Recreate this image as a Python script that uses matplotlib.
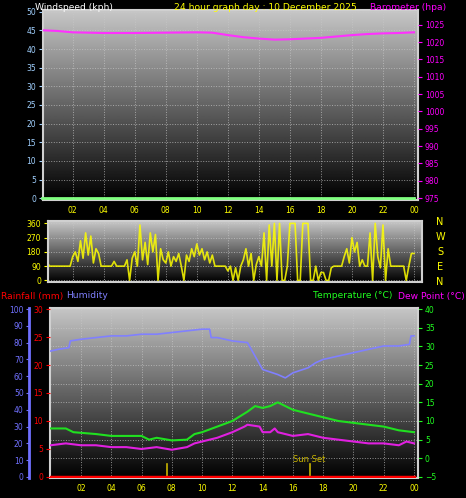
import numpy as np
import matplotlib.pyplot as plt

W, H = 466, 498

# ---- data ----
baro_hours = [0, 1, 2, 4, 6, 8, 10, 11, 12, 13, 14, 15, 16, 17, 18, 19, 20, 21, 22, 23, 24]
baro = [1023.4, 1023.2, 1022.8, 1022.6, 1022.6, 1022.7, 1022.8, 1022.7, 1022.0, 1021.4, 1021.0, 1020.7,
        1020.8, 1021.0, 1021.2, 1021.6, 1022.0, 1022.3, 1022.5, 1022.6, 1022.8]
wind_hours = [0, 24]
wind = [0, 0]

wdir = [200, 90, 120, 90, 90, 90,
        90, 90, 90, 90, 90, 90,
        150, 180, 120, 250, 140, 300,
        160, 280, 110, 200, 170, 90,
        90, 90, 90, 90, 120, 90,
        90, 90, 90, 130, 0, 140,
        180, 90, 350, 130, 240, 100,
        300, 180, 290, 0, 200, 130,
        110, 180, 90, 150, 120, 170,
        90, 0, 160, 120, 200, 150,
        230, 160, 200, 130, 180, 110,
        160, 90, 90, 90, 90, 90,
        60, 90, 0, 80, 0, 90,
        130, 200, 90, 170, 0, 100,
        150, 90, 300, 0, 350, 90,
        360, 0, 360, 0, 0, 90,
        360, 360, 360, 0, 0, 360,
        360, 360, 0, 0, 90, 0,
        50, 50, 0, 0, 80, 90,
        90, 90, 90, 150, 200, 110,
        270, 180, 240, 90, 130, 90,
        90, 300, 0, 360, 150, 80,
        350, 0, 200, 90, 90, 90,
        90, 90, 90, 0, 90, 170, 170]
wdir_hours = [i / 6 for i in range(len(wdir))]

hum_hours = [0, 0.5, 1.2, 1.3, 2, 3, 4, 5, 6, 7, 8, 9, 10, 10.5, 10.6, 11, 12, 13, 13.5, 14, 15, 15.5,
             16, 17, 17.5, 18, 19, 20, 21, 22, 23, 23.7, 23.8, 24]
hum = [75, 76, 77, 81, 82, 83, 84, 84, 85, 85, 86, 87, 88, 88, 83, 83, 81, 80, 72, 64, 61, 59,
       62, 65, 68, 70, 72, 74, 76, 78, 78, 79, 84, 84]

temp_hours = [0, 1, 1.5, 3, 4, 6, 6.5, 7, 8, 9, 9.5, 10, 11, 12, 13, 13.5, 14, 14.5, 15, 16, 17, 18,
              19, 20, 21, 22, 23, 24]
temp = [8, 8, 7, 6.5, 6, 6, 5, 5.5, 4.8, 5, 6.5, 7, 8.5, 10, 12.5, 14, 13.5, 14, 15, 13, 12, 11,
        10, 9.5, 9, 8.5, 7.5, 7]

dew_hours = [0, 1, 2, 3, 4, 5, 6, 7, 8, 9, 9.5, 10, 11, 12, 12.8, 13, 13.8, 14, 14.5, 14.8, 15, 16,
             17, 18, 19, 20, 21, 22, 23, 23.5, 24]
dew = [3.5, 4, 3.5, 3.5, 3, 3, 2.5, 3, 2.3, 3, 4, 4.5, 5.5, 7, 8.5, 9, 8.5, 7, 7, 8, 7, 6,
       6.5, 5.5, 5, 4.5, 4, 4, 3.5, 4.5, 4]

rain_hours = [0, 24]
rain = [0, 0]

hour_ticks = [2, 4, 6, 8, 10, 12, 14, 16, 18, 20, 22, 24]
hour_labels = ['02', '04', '06', '08', '10', '12', '14', '16', '18', '20', '22', '00']
sun_events = [7.7, 17.1]

# ---- figure ----
fig = plt.figure(figsize=(W / 100, H / 100), dpi=100, facecolor='black')


def px_axes(x0, y0, x1, y1):
    return fig.add_axes([x0 / W, 1 - y1 / H, (x1 - x0) / W, (y1 - y0) / H])


grad = np.linspace(0.78, 0.0, 256).reshape(-1, 1)


def style(ax, xlim):
    ax.imshow(grad, cmap='gray', vmin=0, vmax=1, aspect='auto',
              extent=[0, 1, 0, 1], transform=ax.transAxes, zorder=0)
    ax.set_facecolor('black')
    for s in ax.spines.values():
        s.set_color('#d0d0d0')
        s.set_linewidth(1.5)
    ax.grid(True, color='#c8c8c8', linestyle=':', linewidth=0.7, alpha=0.7)
    ax.set_xlim(*xlim)
    ax.set_xticks(hour_ticks)
    ax.set_xticklabels(hour_labels, color='yellow', fontsize=5.5)
    ax.tick_params(axis='x', length=0, pad=4)


# top: wind speed + barometer
ax1 = px_axes(43, 10, 418, 200)
style(ax1, ((43 - 41.7) / 15.5, 24 + (418 - 414) / 15.5))
ax1.set_ylim(-0.5, 50.5)
ax1.set_yticks(range(0, 51, 5))
ax1.tick_params(axis='y', colors='#a0d0ff', labelsize=5.5, length=3, pad=2)
ax1.plot(wind_hours, wind, color='#80ff80', linewidth=2, clip_on=False, zorder=3)
axb = ax1.twinx()
axb.set_ylim(975 - 0.5 * 53.7 / 50, 975 + 50.5 * 53.7 / 50)
axb.set_yticks(range(975, 1026, 5))
axb.tick_params(axis='y', colors='#ff00ff', labelsize=5.5, length=3, pad=2)
axb.plot(baro_hours, baro, color='#ff30ff', linewidth=1.5)
for s in axb.spines.values():
    s.set_visible(False)

fig.text(35 / W, 1 - 7 / H, 'Windspeed (kph)', color='white', fontsize=6.6, va='center')
fig.text(265 / W, 1 - 7 / H, '24 hour graph day : 10 December 2025', color='yellow', fontsize=6.6,
         va='center', ha='center')
fig.text(446 / W, 1 - 7 / H, 'Barometer (hpa)', color='#ff00ff', fontsize=6.6, va='center', ha='right')

# middle: wind direction
ax2 = px_axes(48, 221, 422, 282)
style(ax2, ((48 - 41.7) / 15.5, 24 + (422 - 414) / 15.5))
ax2.set_ylim(-10, 375)
ax2.set_yticks([0, 90, 180, 270, 360])
ax2.tick_params(axis='y', colors='yellow', labelsize=5.5, length=3, pad=2)
ax2.tick_params(axis='x', labelbottom=False)
ax2.plot(wdir_hours, wdir, color='yellow', linewidth=1.2, alpha=0.85)
for i, lab in enumerate(['N', 'W', 'S', 'E', 'N']):
    fig.text(440 / W, 1 - (222 + i * 15) / H, lab, color='yellow', fontsize=7, ha='center', va='center')

# bottom: temperature, dew point, humidity, rain
ax3 = px_axes(50, 308, 418, 478)
style(ax3, ((50 - 50.7) / 15.14, 24 + (418 - 414) / 15.14))
ax3.set_ylim(-5 - 45 / 165, 40 + 45 / 165)
ax3.set_yticks(range(-5, 41, 5))
ax3.plot(temp_hours, temp, color='#20e020', linewidth=1.5, zorder=3)
ax3.plot(dew_hours, dew, color='#e020e0', linewidth=1.5, zorder=3)
for h in sun_events:
    ax3.plot([h, h], [-5, -1.5], color='#c8b400', linewidth=1.2, zorder=3)
ax3.text(sun_events[1], -1.4, 'Sun Set', color='#c8b400', fontsize=6, ha='center', va='bottom')

axr = ax3.twinx()
axr.set_ylim(0 - 30 / 165, 30 + 30 / 165)
axr.set_yticks(range(0, 31, 5))
axr.plot(rain_hours, rain, color='red', linewidth=2.5, zorder=4)
for s in axr.spines.values():
    s.set_visible(False)

axh = ax3.twinx()
axh.spines['left'].set_position(('outward', 15))
axh.spines['left'].set_visible(True)
axh.spines['left'].set_color('#7070ff')
axh.spines['left'].set_linewidth(2)
for k in ['right', 'top', 'bottom']:
    axh.spines[k].set_visible(False)
axh.set_ylim(0 - 100 / 165, 100 + 100 / 165)
axh.set_yticks(range(0, 101, 10))
axh.plot(hum_hours, hum, color='#8080ff', linewidth=1.2)

# twinx resets tick sides, so set them after all twins exist
ax3.yaxis.tick_right()
ax3.tick_params(axis='y', colors='#20ff20', labelsize=5.5, length=3, pad=2)
axr.yaxis.tick_left()
axr.tick_params(axis='y', colors='red', labelsize=5.5, length=3, pad=2)
axh.yaxis.tick_left()
axh.tick_params(axis='y', colors='#7070ff', labelsize=5.5, length=2, pad=2)

fig.text(1 / W, 1 - 296 / H, 'Rainfall (mm)', color='red', fontsize=6.6, va='center')
fig.text(66 / W, 1 - 296 / H, 'Humidity', color='#8080ff', fontsize=6.6, va='center')
fig.text(392 / W, 1 - 296 / H, 'Temperature (°C)', color='#20ff20', fontsize=6.6, va='center', ha='right')
fig.text(465 / W, 1 - 296 / H, 'Dew Point (°C)', color='#ff00ff', fontsize=6.6, va='center', ha='right')

fig.savefig('out.png', dpi=100, facecolor='black')
